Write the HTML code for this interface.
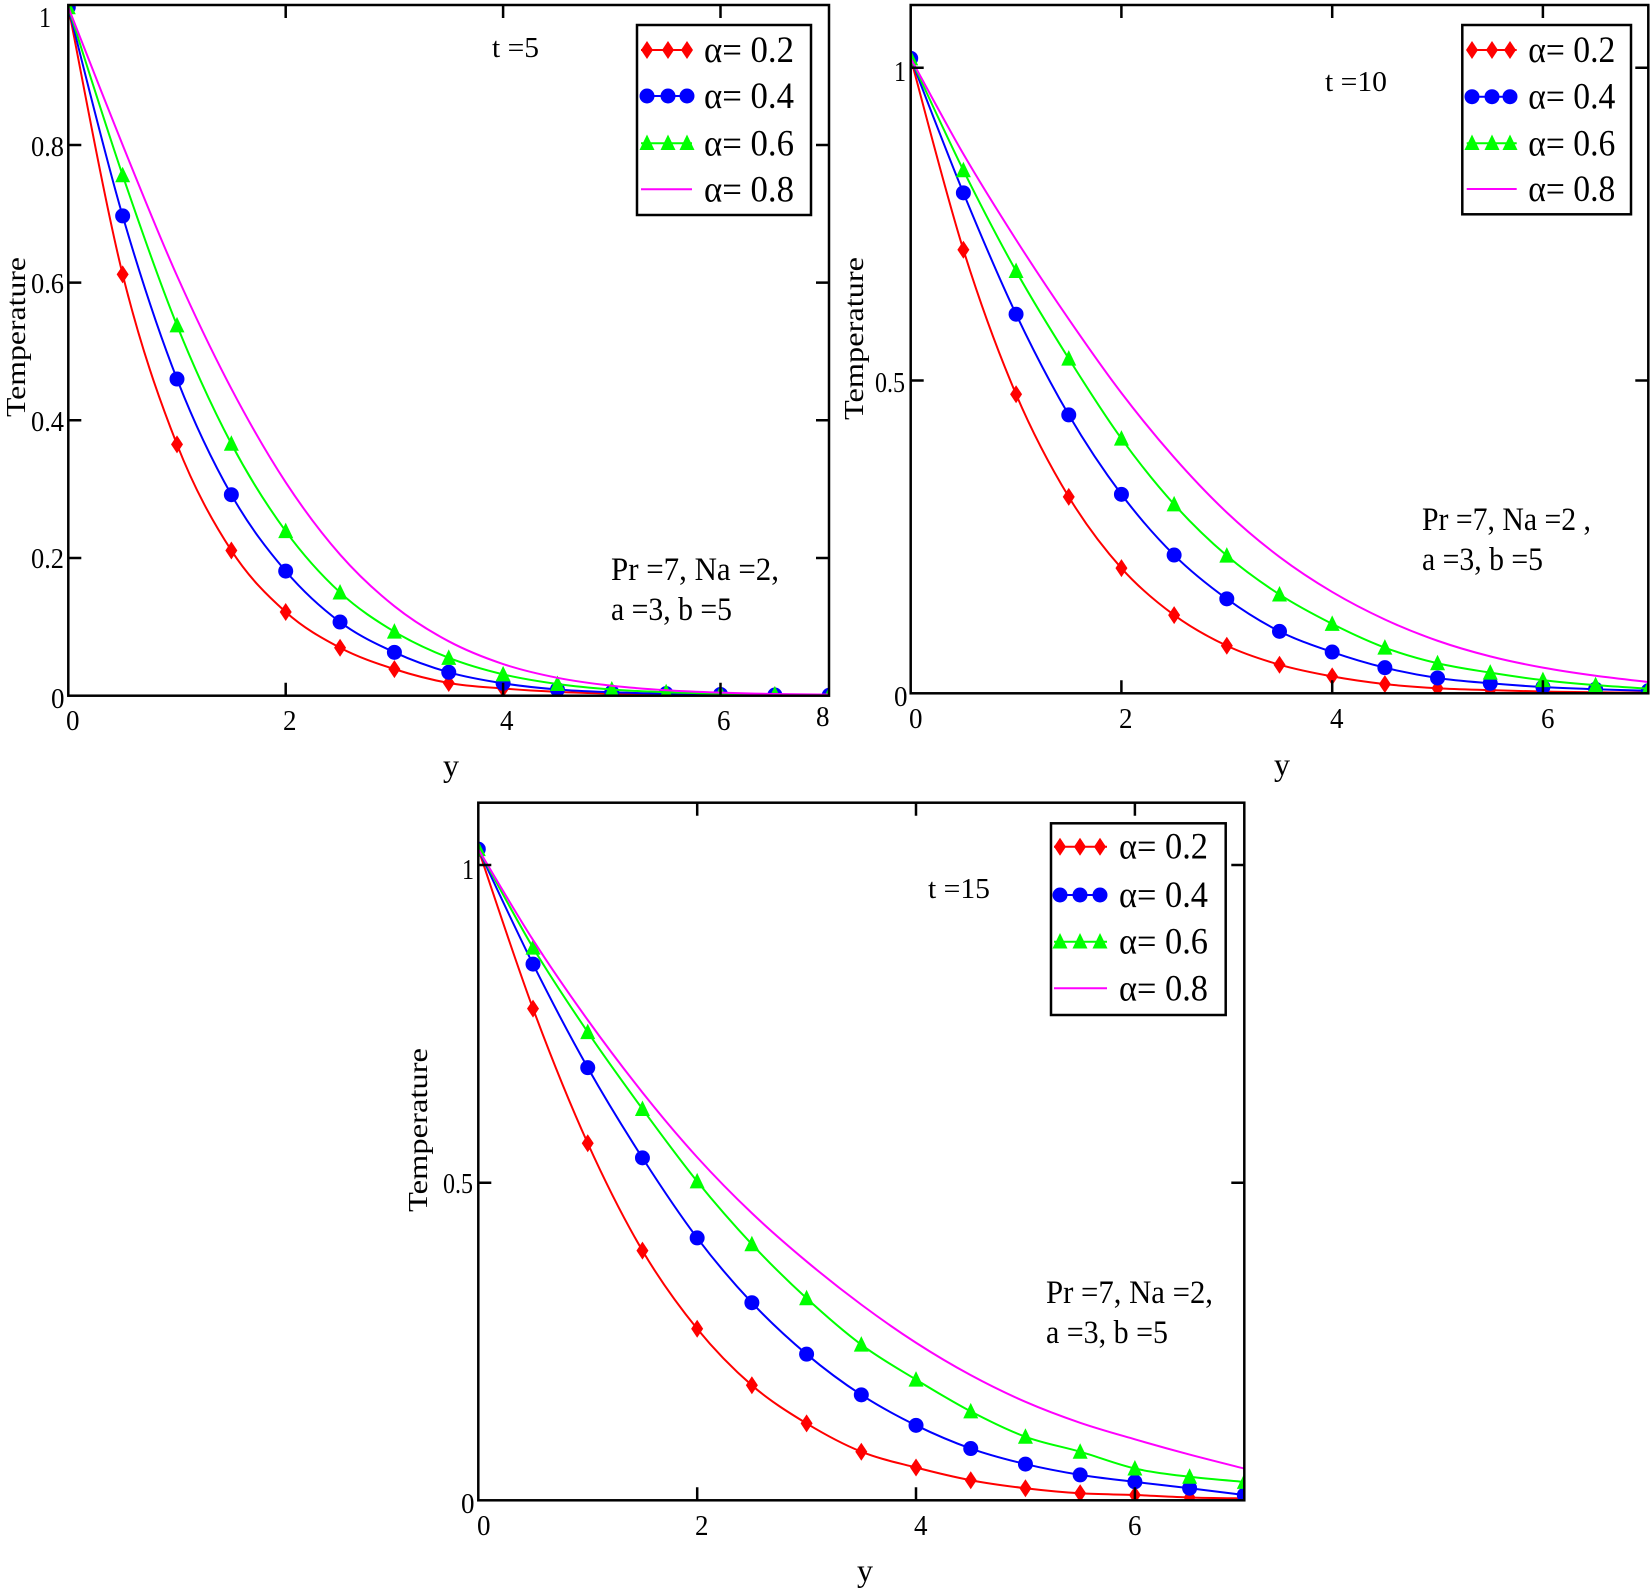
<!DOCTYPE html>
<html>
<head>
<meta charset="utf-8">
<style>
  html,body{margin:0;padding:0;background:#fff;}
  svg{display:block;}
  text{font-family:"Liberation Serif","Times New Roman",serif;fill:#000;}
</style>
</head>
<body>
<svg id="s" width="1652" height="1592" viewBox="0 0 1652 1592" xmlns="http://www.w3.org/2000/svg">
<defs>
  <clipPath id="c1"><rect x="68.3" y="5" width="760.7" height="690.7"/></clipPath>
  <clipPath id="c2"><rect x="910.7" y="5" width="737.6" height="688.3"/></clipPath>
  <clipPath id="c3"><rect x="478.3" y="802.7" width="766" height="697.6"/></clipPath>
  <g id="mdia"><polygon points="0,-9 6,0 0,9 -6,0" fill="#ff0000"/></g>
  <g id="mcir"><circle r="7.5" fill="#0000ff"/></g>
  <g id="mtri"><polygon points="0,-9.5 7.5,6 -7.5,6" fill="#00ff00"/></g>
</defs>
<rect width="1652" height="1592" fill="#fff"/>

<g id="curves"></g>

<!-- ===== Plot 1 axes ===== -->
<g stroke="#000" stroke-width="2.5" fill="none">
  <rect x="68.3" y="5" width="760.7" height="690.7"/>
  <path d="M285.7 695.7v-13M503.1 695.7v-13M720.5 695.7v-13M285.7 5v13M503.1 5v13M720.5 5v13
           M68.3 558.0h13M68.3 420.3h13M68.3 282.6h13M68.3 145h13
           M829 558.0h-13M829 420.3h-13M829 282.6h-13M829 145h-13"/>
</g>
<!-- ===== Plot 2 axes ===== -->
<g stroke="#000" stroke-width="2.5" fill="none">
  <rect x="910.7" y="5" width="737.6" height="688.3"/>
  <path d="M1121.4 693.3v-13M1332.2 693.3v-13M1542.9 693.3v-13M1121.4 5v13M1332.2 5v13M1542.9 5v13
           M910.7 380.5h13M910.7 67.7h13M1648.3 380.5h-13M1648.3 67.7h-13"/>
</g>
<!-- ===== Plot 3 axes ===== -->
<g stroke="#000" stroke-width="2.5" fill="none">
  <rect x="478.3" y="802.7" width="766" height="697.6"/>
  <path d="M697.2 1500.3v-13M916.0 1500.3v-13M1134.9 1500.3v-13M697.2 802.7v13M916.0 802.7v13M1134.9 802.7v13
           M478.3 1182.7h13M478.3 865h13M1244.3 1182.7h-13M1244.3 865h-13"/>
</g>

<!-- ===== Tick labels plot 1 ===== -->
<g font-size="29">
  <text x="39" y="27" textLength="12" lengthAdjust="spacingAndGlyphs">1</text>
  <text x="31" y="156" textLength="33" lengthAdjust="spacingAndGlyphs">0.8</text>
  <text x="31" y="293" textLength="33" lengthAdjust="spacingAndGlyphs">0.6</text>
  <text x="31" y="431" textLength="33" lengthAdjust="spacingAndGlyphs">0.4</text>
  <text x="31" y="568" textLength="33" lengthAdjust="spacingAndGlyphs">0.2</text>
  <text x="51" y="708" textLength="13.5" lengthAdjust="spacingAndGlyphs">0</text>
  <text x="66" y="730" textLength="13.5" lengthAdjust="spacingAndGlyphs">0</text>
  <text x="283" y="730" textLength="13.5" lengthAdjust="spacingAndGlyphs">2</text>
  <text x="500" y="730" textLength="13.5" lengthAdjust="spacingAndGlyphs">4</text>
  <text x="717" y="730" textLength="13.5" lengthAdjust="spacingAndGlyphs">6</text>
  <text x="816" y="726" textLength="13.5" lengthAdjust="spacingAndGlyphs">8</text>
</g>
<!-- ===== Tick labels plot 2 ===== -->
<g font-size="29">
  <text x="894" y="81" textLength="12" lengthAdjust="spacingAndGlyphs">1</text>
  <text x="875" y="392" textLength="30" lengthAdjust="spacingAndGlyphs">0.5</text>
  <text x="894" y="706" textLength="13.5" lengthAdjust="spacingAndGlyphs">0</text>
  <text x="909" y="728" textLength="13.5" lengthAdjust="spacingAndGlyphs">0</text>
  <text x="1119" y="728" textLength="13.5" lengthAdjust="spacingAndGlyphs">2</text>
  <text x="1330" y="728" textLength="13.5" lengthAdjust="spacingAndGlyphs">4</text>
  <text x="1541" y="728" textLength="13.5" lengthAdjust="spacingAndGlyphs">6</text>
</g>
<!-- ===== Tick labels plot 3 ===== -->
<g font-size="29">
  <text x="462" y="879" textLength="12" lengthAdjust="spacingAndGlyphs">1</text>
  <text x="443" y="1193" textLength="30" lengthAdjust="spacingAndGlyphs">0.5</text>
  <text x="461" y="1513" textLength="13.5" lengthAdjust="spacingAndGlyphs">0</text>
  <text x="477" y="1535" textLength="13.5" lengthAdjust="spacingAndGlyphs">0</text>
  <text x="695" y="1535" textLength="13.5" lengthAdjust="spacingAndGlyphs">2</text>
  <text x="914" y="1535" textLength="13.5" lengthAdjust="spacingAndGlyphs">4</text>
  <text x="1128" y="1535" textLength="13.5" lengthAdjust="spacingAndGlyphs">6</text>
</g>

<!-- ===== Axis titles ===== -->
<g font-size="32" text-anchor="middle">
  <text x="451" y="776">y</text>
  <text x="1282" y="775">y</text>
  <text x="865" y="1581">y</text>
</g>
<g font-size="27">
  <text transform="translate(25,417) rotate(-90)" x="0" y="0" textLength="160" lengthAdjust="spacingAndGlyphs">Temperature</text>
  <text transform="translate(863,420) rotate(-90)" x="0" y="0" textLength="163" lengthAdjust="spacingAndGlyphs">Temperature</text>
  <text transform="translate(427,1212) rotate(-90)" x="0" y="0" textLength="164" lengthAdjust="spacingAndGlyphs">Temperature</text>
</g>

<!-- ===== Annotations ===== -->
<g font-size="29">
  <text x="492" y="57" textLength="47" lengthAdjust="spacingAndGlyphs">t =5</text>
  <text x="1325" y="91" textLength="62" lengthAdjust="spacingAndGlyphs">t =10</text>
  <text x="928" y="898" textLength="62" lengthAdjust="spacingAndGlyphs">t =15</text>
</g>
<g font-size="33">
  <text x="611" y="580" textLength="168" lengthAdjust="spacingAndGlyphs">Pr =7, Na =2,</text>
  <text x="611" y="620" textLength="121" lengthAdjust="spacingAndGlyphs">a =3, b =5</text>
  <text x="1422" y="530" textLength="169" lengthAdjust="spacingAndGlyphs">Pr =7, Na =2 ,</text>
  <text x="1422" y="570" textLength="121" lengthAdjust="spacingAndGlyphs">a =3, b =5</text>
  <text x="1046" y="1303" textLength="167" lengthAdjust="spacingAndGlyphs">Pr =7, Na =2,</text>
  <text x="1046" y="1343" textLength="122" lengthAdjust="spacingAndGlyphs">a =3, b =5</text>
</g>

<!-- ===== Legend plot 1 ===== -->
<g>
  <rect x="637" y="25" width="174" height="190" fill="#fff" stroke="#000" stroke-width="2.5"/>
  <g stroke-width="2" fill="none">
    <path d="M641 50H692" stroke="#ff0000"/>
    <path d="M641 96H692" stroke="#0000ff"/>
    <path d="M641 143.3H692" stroke="#00ff00"/>
    <path d="M641 189.3H692" stroke="#ff00ff"/>
  </g>
  <use href="#mdia" x="647" y="50"/><use href="#mdia" x="668" y="50"/><use href="#mdia" x="687" y="50"/>
  <use href="#mcir" x="647" y="96"/><use href="#mcir" x="668" y="96"/><use href="#mcir" x="687" y="96"/>
  <use href="#mtri" x="647" y="144"/><use href="#mtri" x="668" y="144"/><use href="#mtri" x="687" y="144"/>
  <g font-size="37">
    <text x="704" y="62" textLength="90" lengthAdjust="spacingAndGlyphs">α= 0.2</text>
    <text x="704" y="108" textLength="90" lengthAdjust="spacingAndGlyphs">α= 0.4</text>
    <text x="704" y="155.3" textLength="90" lengthAdjust="spacingAndGlyphs">α= 0.6</text>
    <text x="704" y="201.3" textLength="90" lengthAdjust="spacingAndGlyphs">α= 0.8</text>
  </g>
</g>
<!-- ===== Legend plot 2 ===== -->
<g>
  <rect x="1462.3" y="25" width="168.7" height="189.3" fill="#fff" stroke="#000" stroke-width="2.5"/>
  <g stroke-width="2" fill="none">
    <path d="M1466.7 50H1516.7" stroke="#ff0000"/>
    <path d="M1466.7 96.7H1516.7" stroke="#0000ff"/>
    <path d="M1466.7 143.3H1516.7" stroke="#00ff00"/>
    <path d="M1466.7 189H1516.7" stroke="#ff00ff"/>
  </g>
  <use href="#mdia" x="1472" y="50"/><use href="#mdia" x="1492" y="50"/><use href="#mdia" x="1510" y="50"/>
  <use href="#mcir" x="1472" y="96.7"/><use href="#mcir" x="1492" y="96.7"/><use href="#mcir" x="1510" y="96.7"/>
  <use href="#mtri" x="1472" y="144"/><use href="#mtri" x="1492" y="144"/><use href="#mtri" x="1510" y="144"/>
  <g font-size="37">
    <text x="1528.3" y="62" textLength="87" lengthAdjust="spacingAndGlyphs">α= 0.2</text>
    <text x="1528.3" y="108.7" textLength="87" lengthAdjust="spacingAndGlyphs">α= 0.4</text>
    <text x="1528.3" y="155.3" textLength="87" lengthAdjust="spacingAndGlyphs">α= 0.6</text>
    <text x="1528.3" y="201" textLength="87" lengthAdjust="spacingAndGlyphs">α= 0.8</text>
  </g>
</g>
<!-- ===== Legend plot 3 ===== -->
<g>
  <rect x="1051" y="823.3" width="174.7" height="191.7" fill="#fff" stroke="#000" stroke-width="2.5"/>
  <g stroke-width="2" fill="none">
    <path d="M1054 846.7H1107" stroke="#ff0000"/>
    <path d="M1054 895H1107" stroke="#0000ff"/>
    <path d="M1054 941.7H1107" stroke="#00ff00"/>
    <path d="M1054 988.3H1107" stroke="#ff00ff"/>
  </g>
  <use href="#mdia" x="1060" y="846.7"/><use href="#mdia" x="1080" y="846.7"/><use href="#mdia" x="1100" y="846.7"/>
  <use href="#mcir" x="1060" y="895"/><use href="#mcir" x="1080" y="895"/><use href="#mcir" x="1100" y="895"/>
  <use href="#mtri" x="1060" y="942.5"/><use href="#mtri" x="1080" y="942.5"/><use href="#mtri" x="1100" y="942.5"/>
  <g font-size="37">
    <text x="1119" y="858.7" textLength="89" lengthAdjust="spacingAndGlyphs">α= 0.2</text>
    <text x="1119" y="907" textLength="89" lengthAdjust="spacingAndGlyphs">α= 0.4</text>
    <text x="1119" y="953.7" textLength="89" lengthAdjust="spacingAndGlyphs">α= 0.6</text>
    <text x="1119" y="1000.3" textLength="89" lengthAdjust="spacingAndGlyphs">α= 0.8</text>
  </g>
</g>
</svg>

<script>
(function(){
  var NS="http://www.w3.org/2000/svg";
  var plots=[
    {clip:"c1",x0:68.3,sx:108.7,y0:695.7,sy:688.4,d:[
      [1,0.612,0.365,0.211,0.1216,0.0697,0.0386,0.0185,0.0104,0.0055,0.003,0.0018,0.001,0.0006,0.0003],
      [1,0.697,0.460,0.292,0.181,0.107,0.063,0.034,0.018,0.009,0.005,0.003,0.0018,0.001,0.0006],
      [1,0.756,0.538,0.366,0.239,0.150,0.093,0.055,0.031,0.017,0.009,0.005,0.003,0.0018,0.001],
      [1,0.800,0.610,0.446,0.310,0.205,0.130,0.079,0.046,0.026,0.0145,0.008,0.0045,0.0025,0.0015]]},
    {clip:"c2",x0:910.7,sx:105.37,y0:693.3,sy:625.6,d:[
      [1.015,0.709,0.478,0.314,0.200,0.125,0.076,0.0457,0.027,0.0147,0.008,0.005,0.0028,0.0016,0.001],
      [1.015,0.800,0.606,0.445,0.318,0.221,0.151,0.099,0.066,0.041,0.0245,0.016,0.010,0.0065,0.004],
      [1.015,0.836,0.675,0.535,0.407,0.302,0.220,0.158,0.111,0.073,0.048,0.033,0.021,0.013,0.0075],
      [1.015,0.862,0.725,0.598,0.480,0.377,0.289,0.218,0.162,0.118,0.084,0.059,0.041,0.028,0.018]]},
    {clip:"c3",x0:478.3,sx:109.43,y0:1500.3,sy:635.3,d:[
      [1.025,0.774,0.562,0.393,0.270,0.181,0.121,0.0765,0.0516,0.0316,0.019,0.011,0.0083,0.0045,0.003],
      [1.025,0.844,0.681,0.539,0.413,0.311,0.230,0.166,0.118,0.0815,0.057,0.040,0.029,0.019,0.0083],
      [1.025,0.870,0.737,0.616,0.502,0.403,0.318,0.245,0.190,0.140,0.100,0.0765,0.050,0.037,0.029],
      [1.025,0.882,0.756,0.642,0.540,0.452,0.376,0.308,0.248,0.197,0.155,0.122,0.096,0.072,0.050]]}
  ];
  var cols=["#ff0000","#0000ff","#00ff00","#ff00ff"];
  var mk=["#mdia","#mcir","#mtri",null];
  var root=document.getElementById("curves");
  function f(v){return v.toFixed(2);}
  plots.forEach(function(p){
    var g=document.createElementNS(NS,"g");
    g.setAttribute("clip-path","url(#"+p.clip+")");
    root.appendChild(g);
    p.d.forEach(function(arr,si){
      var pts=arr.map(function(v,i){return [p.x0+p.sx*i*0.5,p.y0-p.sy*v];});
      var n=pts.length, d="M"+f(pts[0][0])+" "+f(pts[0][1]);
      for(var i=0;i<n-1;i++){
        var p0=pts[Math.max(i-1,0)],p1=pts[i],p2=pts[i+1],p3=pts[Math.min(i+2,n-1)];
        var c1x=p1[0]+(p2[0]-p0[0])/6,c1y=p1[1]+(p2[1]-p0[1])/6;
        var c2x=p2[0]-(p3[0]-p1[0])/6,c2y=p2[1]-(p3[1]-p1[1])/6;
        d+="C"+f(c1x)+" "+f(c1y)+" "+f(c2x)+" "+f(c2y)+" "+f(p2[0])+" "+f(p2[1]);
      }
      var path=document.createElementNS(NS,"path");
      path.setAttribute("d",d);
      path.setAttribute("fill","none");
      path.setAttribute("stroke",cols[si]);
      path.setAttribute("stroke-width","2");
      g.appendChild(path);
      if(mk[si]){
        pts.forEach(function(pt){
          var u=document.createElementNS(NS,"use");
          u.setAttribute("href",mk[si]);
          u.setAttribute("x",f(pt[0]));
          u.setAttribute("y",f(pt[1]+(si==2?1:0)));
          g.appendChild(u);
        });
      }
    });
  });
})();
</script>
</body>
</html>
